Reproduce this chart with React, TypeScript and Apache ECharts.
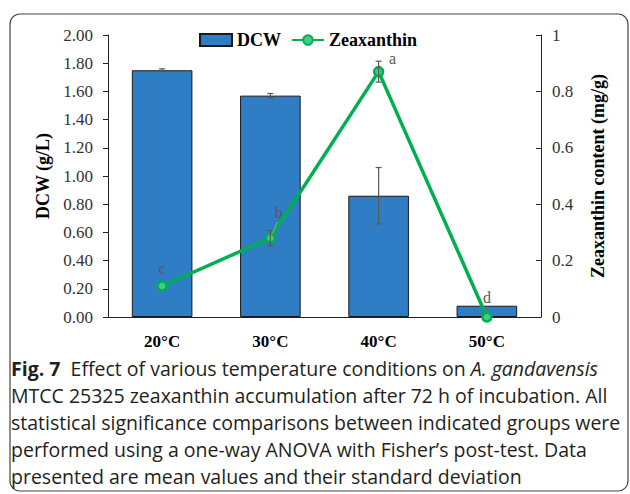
import React, { useEffect, useRef } from "react";
import * as echarts from "echarts";

const categories = ["20°C", "30°C", "40°C", "50°C"];
const dcw = [1.75, 1.57, 0.86, 0.08];
const dcwErr = [0.01, 0.015, 0.2, 0];
const zea = [0.11, 0.28, 0.87, 0.0];
const zeaErr = [0, 0.027, 0.037, 0];
const letters = ["c", "b", "a", "d"];
const leftTicks = { min: 0, max: 2, interval: 0.2 };
const rightTicks = { min: 0, max: 1, interval: 0.2 };
const captionLines = [
  "{b|Fig. 7}  Effect of various temperature conditions on {i|A. gandavensis}",
  "MTCC 25325 zeaxanthin accumulation after 72 h of incubation. All",
  "statistical significance comparisons between indicated groups were",
  "performed using a one-way ANOVA with Fisher’s post-test. Data",
  "presented are mean values and their standard deviation",
];

// style-only offsets for the significance letters (px)
const letterOffsets = [
  [0, -17],
  [8, -26],
  [14, -13],
  [0, -20],
];

const SERIF = "'Liberation Serif', 'Times New Roman', serif";
const SANS = "'Open Sans', 'Noto Sans', sans-serif";
const CAP = 19.5;

export default function App() {
  const ref = useRef<HTMLDivElement>(null);
  useEffect(() => {
    if (!ref.current) return;
    const chart = echarts.init(ref.current, undefined, { renderer: "svg" });

    const errRender = (params: any, api: any) => {
      const x = api.value(0);
      const y = api.value(1);
      const e = api.value(2);
      if (!e) return { type: "group", children: [] };
      const top = api.coord([x, y + e]);
      const bot = api.coord([x, y - e]);
      const st = { stroke: "#595959", lineWidth: 1.2 };
      const cap = 3;
      return {
        type: "group",
        children: [
          { type: "line", shape: { x1: top[0], y1: top[1], x2: bot[0], y2: bot[1] }, style: st },
          { type: "line", shape: { x1: top[0] - cap, y1: top[1], x2: top[0] + cap, y2: top[1] }, style: st },
          { type: "line", shape: { x1: bot[0] - cap, y1: bot[1], x2: bot[0] + cap, y2: bot[1] }, style: st },
        ],
      };
    };

    const letterRender = (params: any, api: any) => {
      const i = api.value(0);
      const y = api.value(1);
      const p = api.coord([i, y]);
      const off = letterOffsets[i];
      const children: any[] = [
        {
          type: "text",
          x: p[0] + off[0],
          y: p[1] + off[1],
          style: {
            text: letters[i],
            font: `16px ${SERIF}`,
            fill: "#595959",
            align: "center",
            verticalAlign: "middle",
          },
        },
      ];
      if (i === 1) {
        children.push({
          type: "line",
          shape: { x1: p[0] + 2, y1: p[1] - 5, x2: p[0] + 7, y2: p[1] - 16 },
          style: { stroke: "#a0a0a0", lineWidth: 1 },
        });
      }
      return { type: "group", children };
    };

    chart.setOption({
      animation: false,
      backgroundColor: "#fff",
      grid: { left: 108, right: 89, top: 35, bottom: 177, containLabel: false },
      legend: {
        top: 26,
        left: 194,
        itemGap: 10,
        itemWidth: 32,
        itemHeight: 12,
        textStyle: { fontFamily: SERIF, fontWeight: "bold", fontSize: 18, color: "#000" },
        data: [
          { name: "DCW", icon: "rect" },
          { name: "Zeaxanthin" },
        ],
      },
      xAxis: {
        type: "category",
        data: categories,
        axisTick: { show: false },
        axisLine: { lineStyle: { color: "#222", width: 1 } },
        axisLabel: { fontFamily: SERIF, fontWeight: "bold", fontSize: 17, color: "#000", margin: 16 },
      },
      yAxis: [
        {
          type: "value",
          min: leftTicks.min,
          max: leftTicks.max,
          interval: leftTicks.interval,
          name: "DCW (g/L)",
          nameLocation: "middle",
          nameRotate: 90,
          nameGap: 56,
          nameTextStyle: { fontFamily: SERIF, fontWeight: "bold", fontSize: 18, color: "#000" },
          axisLine: { show: true, lineStyle: { color: "#222", width: 1 } },
          axisTick: { show: true, length: 5, lineStyle: { color: "#222" } },
          splitLine: { show: false },
          axisLabel: {
            fontFamily: SERIF,
            fontSize: 17,
            color: "#333",
            margin: 15,
            formatter: (v: number) => v.toFixed(2),
          },
        },
        {
          type: "value",
          min: rightTicks.min,
          max: rightTicks.max,
          interval: rightTicks.interval,
          position: "right",
          name: "Zeaxanthin content (mg/g)",
          nameLocation: "middle",
          nameRotate: 90,
          nameGap: 48,
          nameTextStyle: { fontFamily: SERIF, fontWeight: "bold", fontSize: 18, color: "#000" },
          axisLine: { show: true, lineStyle: { color: "#222", width: 1 } },
          axisTick: { show: true, inside: true, length: 5, lineStyle: { color: "#222" } },
          splitLine: { show: false },
          axisLabel: {
            fontFamily: SERIF,
            fontSize: 17,
            color: "#333",
            margin: 11,
            formatter: (v: number) => (v === 0 || v === 1 ? String(v) : v.toFixed(1)),
          },
        },
      ],
      series: [
        {
          name: "DCW",
          type: "bar",
          data: dcw,
          barWidth: "56%",
          itemStyle: { color: "#2F7DC4", borderColor: "#1a1a1a", borderWidth: 1 },
          z: 2,
        },
        {
          name: "dcwErr",
          type: "custom",
          renderItem: errRender,
          data: dcw.map((v, i) => [i, v, dcwErr[i]]),
          z: 3,
          silent: true,
        },
        {
          name: "Zeaxanthin",
          type: "line",
          yAxisIndex: 1,
          data: zea,
          symbol: "circle",
          symbolSize: 9,
          lineStyle: { color: "#00B050", width: 3.5 },
          itemStyle: { color: "#45c985", borderColor: "#00B050", borderWidth: 2.5 },
          z: 4,
        },
        {
          name: "zeaErr",
          type: "custom",
          yAxisIndex: 1,
          renderItem: errRender,
          data: zea.map((v, i) => [i, v, zeaErr[i]]),
          z: 5,
          silent: true,
        },
        {
          name: "letters",
          type: "custom",
          yAxisIndex: 1,
          renderItem: letterRender,
          data: zea.map((v, i) => [i, v]),
          z: 6,
          silent: true,
        },
      ],
      graphic: [
        {
          type: "rect",
          shape: { x: 10, y: 14, width: 618, height: 477, r: 10 },
          style: { fill: "none", stroke: "#444", lineWidth: 1.2 },
          silent: true,
        },
        ...captionLines.map((t, i) => ({
          type: "text",
          left: 11,
          top: 358 + i * 27,
          style: {
            text: t,
            font: `${CAP}px ${SANS}`,
            fill: "#231f20",
            rich: {
              b: { fontFamily: SANS, fontWeight: "bold", fontSize: CAP, fill: "#231f20" },
              i: { fontFamily: SANS, fontStyle: "italic", fontSize: CAP, fill: "#231f20" },
            },
          },
        })),
      ],
    });
    return () => chart.dispose();
  }, []);
  return (
    <div
      ref={ref}
      style={{ position: "fixed", left: 0, top: 0, width: 630, height: 494 }}
    />
  );
}
